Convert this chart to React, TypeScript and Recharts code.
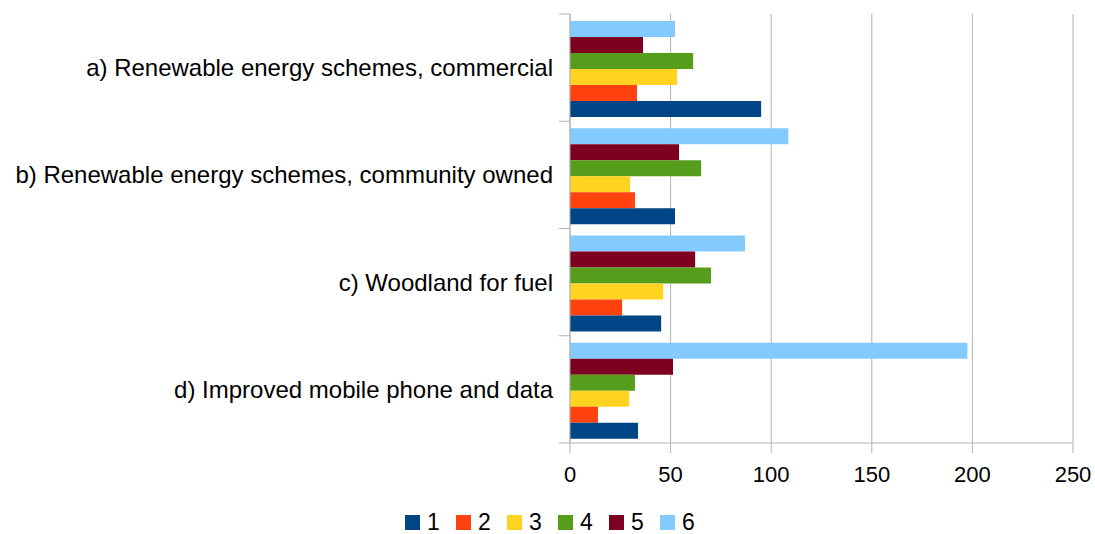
import React from 'react';
import { BarChart, Bar, XAxis, YAxis, CartesianGrid, Legend } from 'recharts';

document.body.style.margin = '0';

const categories = [
  'a) Renewable energy schemes, commercial',
  'b) Renewable energy schemes, community owned',
  'c) Woodland for fuel',
  'd) Improved mobile phone and data',
];

// one array per series, same order as the categories
const series1 = [95, 52.2, 45.3, 33.8];
const series2 = [33.3, 32.3, 25.9, 13.9];
const series3 = [53.2, 29.9, 46.3, 29.4];
const series4 = [61.2, 65.2, 70.1, 32.3];
const series5 = [36.3, 54.2, 62.2, 51.2];
const series6 = [52.2, 108.5, 87, 197.5];

const seriesNames = ['1', '2', '3', '4', '5', '6'];
const seriesColors = ['#004586', '#ff420e', '#ffd320', '#579d1c', '#7e0021', '#83caff'];
const xTicks = [0, 50, 100, 150, 200, 250];

const allSeries = [series1, series2, series3, series4, series5, series6];

const data = categories.map((name, i) => {
  const row: any = { name };
  seriesNames.forEach((s, j) => {
    row[s] = allSeries[j][i];
  });
  return row;
});

const W = 1095;
const H = 534;
const MARGIN = { top: 14, right: 22, bottom: 0, left: 0 };
const Y_AXIS_W = 570;
const X_AXIS_H = 55;
const LEGEND_H = 36;
const PLOT_H = H - MARGIN.top - MARGIN.bottom - X_AXIS_H - LEGEND_H;
const GRID = '#b3b3b3';
const FONT = '"Liberation Sans", Arial, sans-serif';

// category label plus the short tick marks at the band boundaries
const CategoryTick = (props: any) => {
  const { x, y, payload, index } = props;
  const half = PLOT_H / categories.length / 2;
  return (
    <g>
      <line x1={x + 6} x2={x + 17} y1={y - half} y2={y - half} stroke={GRID} />
      {index === categories.length - 1 && (
        <line x1={x + 6} x2={x + 17} y1={y + half} y2={y + half} stroke={GRID} />
      )}
      <text x={x} y={y} dy="0.355em" textAnchor="end" fontSize={24} fontFamily={FONT} fill="#000">
        {payload.value}
      </text>
    </g>
  );
};

const LegendContent = () => (
  <div
    style={{
      display: 'flex',
      justifyContent: 'center',
      alignItems: 'center',
      height: LEGEND_H,
      paddingTop: 13,
      boxSizing: 'border-box',
      paddingLeft: 27,
      fontFamily: FONT,
      fontSize: 23,
      color: '#000',
    }}
  >
    {seriesNames.map((s, i) => (
      <div
        key={s}
        style={{
          display: 'flex',
          alignItems: 'center',
          width: i === seriesNames.length - 1 ? 35 : 51,
        }}
      >
        <span style={{ width: 15, height: 15, background: seriesColors[i], marginRight: 7, flex: 'none' }} />
        <span style={{ lineHeight: '15px' }}>{s}</span>
      </div>
    ))}
  </div>
);

export default function App() {
  // bars drawn 6..1 so that series 1 sits at the bottom of each group
  const drawOrder = [5, 4, 3, 2, 1, 0];
  return (
    <div style={{ width: W, height: H, background: '#fff' }}>
      <BarChart
        width={W}
        height={H}
        data={data}
        layout="vertical"
        margin={MARGIN}
        barCategoryGap="6.5%"
        barGap={0}
      >
        <CartesianGrid horizontal={false} stroke={GRID} />
        <XAxis
          type="number"
          domain={[0, 250]}
          ticks={xTicks}
          interval={0}
          height={X_AXIS_H}
          tickSize={10}
          tickMargin={13}
          axisLine={{ stroke: GRID }}
          tickLine={{ stroke: GRID }}
          tick={{ fontSize: 22, fontFamily: FONT, fill: '#000' }}
        />
        <XAxis
          xAxisId="top"
          orientation="top"
          type="number"
          domain={[0, 250]}
          height={0}
          tick={false}
          tickLine={false}
          axisLine={{ stroke: GRID }}
        />
        <YAxis
          type="category"
          dataKey="name"
          width={Y_AXIS_W}
          interval={0}
          tickSize={0}
          tickMargin={17}
          tickLine={false}
          axisLine={{ stroke: GRID }}
          tick={<CategoryTick />}
        />
        <Legend verticalAlign="bottom" height={LEGEND_H} content={<LegendContent />} />
        {drawOrder.map((j) => (
          <Bar
            key={seriesNames[j]}
            dataKey={seriesNames[j]}
            name={seriesNames[j]}
            fill={seriesColors[j]}
            isAnimationActive={false}
          />
        ))}
      </BarChart>
    </div>
  );
}
